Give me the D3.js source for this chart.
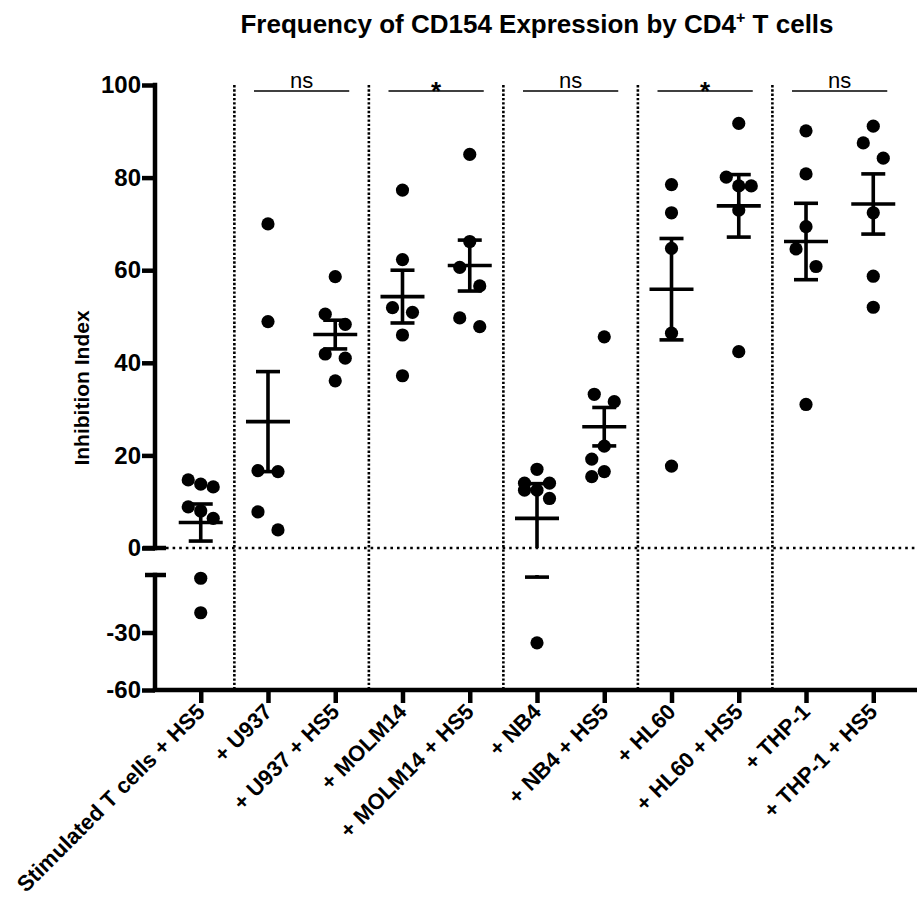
<!DOCTYPE html>
<html><head><meta charset="utf-8">
<script src="https://cdnjs.cloudflare.com/ajax/libs/d3/7.8.5/d3.min.js"></script>
<style>body{margin:0;background:#fff}</style>
</head><body><svg id="chart" width="917" height="902"></svg>
<script>
// ---------------- data ----------------
const categories = ["Stimulated T cells + HS5", "+ U937", "+ U937 + HS5", "+ MOLM14", "+ MOLM14 + HS5",
  "+ NB4", "+ NB4 + HS5", "+ HL60", "+ HL60 + HS5", "+ THP-1", "+ THP-1 + HS5"];

const valsStim       = [14.7, 13.8, 13.2, 8.9, 8.0, 6.4, -1.7, -19.7];
const valsU937       = [70.0, 48.9, 16.7, 16.5, 7.8, 3.9];
const valsU937HS5    = [58.6, 50.5, 48.3, 41.9, 41.0, 36.1];
const valsMOLM14     = [77.3, 62.3, 51.9, 50.9, 46.0, 37.2];
const valsMOLM14HS5  = [85.0, 66.2, 60.6, 56.6, 49.7, 47.8];
const valsNB4        = [17.0, 14.0, 14.0, 12.5, 12.5, 10.7, -35.4];
const valsNB4HS5     = [45.6, 33.2, 31.6, 22.0, 19.2, 16.5, 15.4];
const valsHL60       = [78.5, 72.4, 64.7, 46.4, 17.7];
const valsHL60HS5    = [91.7, 80.1, 78.2, 78.2, 73.0, 42.4];
const valsTHP1       = [90.1, 80.8, 69.4, 64.6, 60.8, 31.0];
const valsTHP1HS5    = [91.1, 87.5, 84.2, 72.4, 58.7, 52.0];

const pointValues = [valsStim, valsU937, valsU937HS5, valsMOLM14, valsMOLM14HS5,
  valsNB4, valsNB4HS5, valsHL60, valsHL60HS5, valsTHP1, valsTHP1HS5];

const means = [5.5, 27.3, 46.1, 54.3, 61.0, 6.4, 26.2, 55.9, 73.9, 66.2, 74.3];
const sems  = [4.0, 10.8, 3.1, 5.7, 5.5, 7.5, 4.15, 10.95, 6.75, 8.25, 6.5];

const upperTicks = [0, 20, 40, 60, 80, 100];
const lowerTicks = [-30, -60];
const compPairs  = [[1, 2], [3, 4], [5, 6], [7, 8], [9, 10]];
const compLabels = ["ns", "*", "ns", "*", "ns"];

const titleText = "Frequency of CD154 Expression by CD4";
const yLabel = "Inhibition Index";

// ---------------- drawing ----------------
const FONT = "'Liberation Sans', Arial, Helvetica, sans-serif";
const svg = d3.select("#chart");
svg.append("rect").attr("width", 917).attr("height", 902).attr("fill", "#fff");

const x = d3.scalePoint().domain(categories).range([155, 919]).padding(0.68);
const yU = d3.scaleLinear().domain([0, 100]).range([548, 85]);
const yL = d3.scaleLinear().domain([-60, 0]).range([690, 575]);
const y = v => v >= 0 ? yU(v) : yL(v);
const AX = 155;

// title
const title = svg.append("text")
  .attr("x", 537).attr("y", 33).attr("text-anchor", "middle")
  .attr("font-family", FONT).attr("font-weight", "bold").attr("font-size", 26);
title.append("tspan").text(titleText);
title.append("tspan").attr("dy", -10).attr("font-size", 16).text("+");
title.append("tspan").attr("dy", 10).text(" T cells");

// separators (dotted vertical)
compPairs.forEach(([a]) => {
  const sx = (x(categories[a - 1]) + x(categories[a])) / 2;
  svg.append("line").attr("x1", sx).attr("x2", sx)
    .attr("y1", yU(100)).attr("y2", yL(-60) - 2)
    .attr("stroke", "#000").attr("stroke-width", 2.6).attr("stroke-dasharray", "2.4 1.9");
});

// zero dotted line
svg.append("line").attr("x1", 166).attr("x2", 917)
  .attr("y1", yU(0)).attr("y2", yU(0))
  .attr("stroke", "#000").attr("stroke-width", 2.6).attr("stroke-dasharray", "2.6 4");

// significance bars
compPairs.forEach(([a, b], k) => {
  const x1 = x(categories[a]) - 14, x2 = x(categories[b]) + 14;
  svg.append("line").attr("x1", x1).attr("x2", x2).attr("y1", 91).attr("y2", 91)
    .attr("stroke", "#000").attr("stroke-width", 1.6);
  const isStar = compLabels[k] === "*";
  svg.append("text").attr("x", (x1 + x2) / 2).attr("y", isStar ? 100 : 88)
    .attr("text-anchor", "middle").attr("font-family", FONT)
    .attr("font-weight", isStar ? "bold" : "normal")
    .attr("font-size", isStar ? 26 : 22).text(compLabels[k]);
});

// y axis upper / lower
const fmt = d => String(d);
const gU = svg.append("g").attr("transform", `translate(${AX},0)`)
  .call(d3.axisLeft(yU).tickValues(upperTicks).tickFormat(fmt).tickSize(13).tickPadding(1).tickSizeOuter(0));
const gL = svg.append("g").attr("transform", `translate(${AX},0)`)
  .call(d3.axisLeft(yL).tickValues(lowerTicks).tickFormat(fmt).tickSize(13).tickPadding(1).tickSizeOuter(0));
[gU, gL].forEach(g => {
  g.select(".domain").remove();
  g.selectAll(".tick line").attr("stroke", "#000").attr("stroke-width", 4.5);
  g.selectAll(".tick text").attr("font-family", FONT).attr("font-weight", "bold")
    .attr("font-size", 24).attr("fill", "#000");
});
svg.append("line").attr("x1", AX).attr("x2", AX).attr("y1", yU(100) - 2.25).attr("y2", yU(0) + 2.25)
  .attr("stroke", "#000").attr("stroke-width", 4.5);
svg.append("line").attr("x1", AX - 12).attr("x2", AX + 11).attr("y1", yU(0)).attr("y2", yU(0))
  .attr("stroke", "#000").attr("stroke-width", 4.5);
svg.append("line").attr("x1", AX).attr("x2", AX).attr("y1", yL(0) - 2.25).attr("y2", yL(-60))
  .attr("stroke", "#000").attr("stroke-width", 4.5);
svg.append("line").attr("x1", AX - 10).attr("x2", AX + 11).attr("y1", yL(0)).attr("y2", yL(0))
  .attr("stroke", "#000").attr("stroke-width", 4.5);

// y label
svg.append("text").attr("transform", `translate(89,388) rotate(-90)`)
  .attr("text-anchor", "middle").attr("font-family", FONT).attr("font-weight", "bold")
  .attr("font-size", 21).text(yLabel);

// x axis
const gX = svg.append("g").attr("transform", `translate(0,${yL(-60)})`)
  .call(d3.axisBottom(x).tickSize(13).tickFormat(""));
gX.select(".domain").remove();
gX.selectAll(".tick line").attr("stroke", "#000").attr("stroke-width", 4.5);
svg.append("line").attr("x1", AX - 2.25).attr("x2", 917).attr("y1", yL(-60)).attr("y2", yL(-60))
  .attr("stroke", "#000").attr("stroke-width", 4.5);
gX.selectAll(".tick").append("text")
  .attr("transform", "translate(5,23) rotate(-45)")
  .attr("text-anchor", "end").attr("font-family", FONT).attr("font-weight", "bold")
  .attr("font-size", 22).attr("fill", "#000")
  .text(d => d);

// point dodge layout
function dodge(vals) {
  const idx = vals.map((v, i) => i).sort((a, b) => vals[b] - vals[a]);
  const off = new Array(vals.length).fill(0);
  const clusters = [];
  let cur = [];
  idx.forEach(i => {
    if (cur.length && Math.abs(y(vals[i]) - y(vals[cur[cur.length - 1]])) >= 19) { clusters.push(cur); cur = []; }
    cur.push(i);
  });
  if (cur.length) clusters.push(cur);
  clusters.forEach(c => {
    const n = c.length;
    if (n === 2) { off[c[0]] = -10; off[c[1]] = 10; }
    else if (n === 3) {
      const span = y(vals[c[2]]) - y(vals[c[0]]);
      const pat = span < 20 ? [-12.5, 0, 12.5] : [0, -10, 10];
      c.forEach((i, k) => off[i] = pat[k]);
    } else if (n > 3) {
      const cands = [0, -12.5, 12.5, -6.25, 6.25];
      const placed = [];
      c.forEach(i => {
        const py = y(vals[i]);
        let best = 0, bestD = -1;
        for (const cx of cands) {
          const d = placed.length ? d3.min(placed, p => Math.hypot(p[0] - cx, p[1] - py)) : Infinity;
          if (d >= 16) { best = cx; bestD = d; break; }
          if (d > bestD) { bestD = d; best = cx; }
        }
        off[i] = best; placed.push([best, py]);
      });
    }
  });
  return off;
}

// points
categories.forEach((cat, gi) => {
  const vals = pointValues[gi];
  const off = dodge(vals);
  svg.append("g").selectAll("circle").data(vals).join("circle")
    .attr("cx", (d, i) => x(cat) + off[i])
    .attr("cy", d => y(d))
    .attr("r", 6.6).attr("fill", "#000");
});

// mean +/- SEM
categories.forEach((cat, gi) => {
  const cx = x(cat), m = means[gi], lo = m - sems[gi], hi = m + sems[gi];
  const g = svg.append("g").attr("stroke", "#000").attr("stroke-width", 3.6).attr("fill", "none");
  if (hi > 0) g.append("line").attr("x1", cx).attr("x2", cx).attr("y1", yU(Math.max(lo, 0))).attr("y2", yU(hi));
  if (lo < 0) g.append("line").attr("x1", cx).attr("x2", cx).attr("y1", yL(lo)).attr("y2", yL(Math.min(hi, 0)));
  g.append("line").attr("x1", cx - 22).attr("x2", cx + 22).attr("y1", y(m)).attr("y2", y(m));
  g.append("line").attr("x1", cx - 12).attr("x2", cx + 12).attr("y1", y(hi)).attr("y2", y(hi));
  g.append("line").attr("x1", cx - 12).attr("x2", cx + 12).attr("y1", y(lo)).attr("y2", y(lo));
});
</script>
</body></html>
